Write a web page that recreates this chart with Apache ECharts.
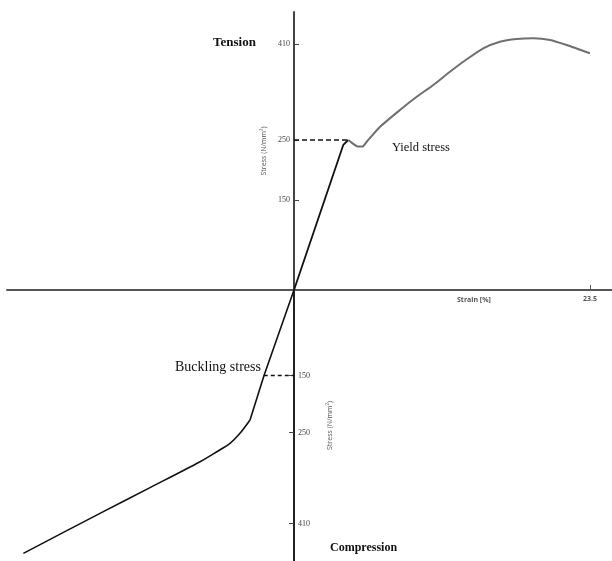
<!DOCTYPE html>
<html>
<head>
<meta charset="utf-8">
<script src="https://cdn.jsdelivr.net/npm/echarts@6/dist/echarts.min.js"></script>
<style>
  html, body { margin: 0; padding: 0; background: #fff; }
  #main { width: 612px; height: 561px; }
</style>
</head>
<body>
<div id="main"></div>
<script>
// strain [%] , stress [N/mm²] (compression negative)
var tensionElastic = [[0, 0], [3.91, 241.7], [4.31, 250]];
var tensionPlastic = [[4.31, 250], [4.68, 244], [5.08, 239], [5.42, 239], [5.77, 247], [6.83, 272],
  [8.41, 300], [9.74, 322], [11.06, 341.7], [12.38, 363.8], [13.71, 384.5], [15.02, 402.8],
  [16.35, 413.8], [17.67, 418.3], [19.0, 419.5], [20.32, 416.7], [21.64, 408.3], [23.49, 394.5]];
var compressionElastic = [[0, 0], [-2.38, -150], [-3.49, -228]];
var compressionPlastic = [[-3.49, -228], [-4.29, -251.4], [-5.08, -269], [-6.13, -283.7],
  [-7.46, -301.2], [-11.43, -346.7], [-15.4, -391.8], [-21.48, -462]];
var yieldLine = [[0, 250], [4.2, 250]];
var bucklingLine = [[-2.4, -150], [0, -150]];

var strainTicks = [23.5];
var tensionTicks = [150, 250, 410];
var compressionTicks = [-150, -250, -410];

var serif = "'Liberation Serif', 'DejaVu Serif', serif";
var tickFont = { fontFamily: serif, fontSize: 8, color: '#444' };

// tension quadrant sits right/above the origin, compression quadrant left/below
var myChart = echarts.init(document.getElementById('main'));
myChart.setOption({
  animation: false,
  grid: [
    { left: 294, right: 0, top: 12, height: 278, containLabel: false, outerBoundsMode: 'none' },
    { left: 7, width: 287, top: 290, height: 271, containLabel: false, outerBoundsMode: 'none' }
  ],
  xAxis: [
    {
      type: 'value', gridIndex: 0, min: 0, max: 25.24, position: 'bottom',
      axisLine: { show: true, onZero: false, lineStyle: { color: '#555', width: 2 } },
      axisTick: { show: true, inside: true, length: 5, customValues: strainTicks, lineStyle: { color: '#555' } },
      axisLabel: { show: true, margin: 5, customValues: strainTicks, fontFamily: 'Open Sans', fontSize: 7, fontWeight: 'bold', color: '#555' },
      splitLine: { show: false }
    },
    {
      type: 'value', gridIndex: 1, min: -22.78, max: 0, position: 'top',
      axisLine: { show: true, onZero: false, lineStyle: { color: '#555', width: 2 } },
      axisTick: { show: false }, axisLabel: { show: false },
      splitLine: { show: false }
    }
  ],
  yAxis: [
    {
      type: 'value', gridIndex: 0, min: 0, max: 463.3, position: 'left',
      axisLine: { show: true, onZero: false, lineStyle: { color: '#444', width: 2 } },
      axisTick: { show: true, inside: true, length: 5, customValues: tensionTicks, lineStyle: { color: '#444' } },
      axisLabel: Object.assign({ margin: 4, customValues: tensionTicks }, tickFont),
      splitLine: { show: false },
      name: 'Stress (N/mm²)', nameLocation: 'middle', nameRotate: 90, nameGap: 18,
      nameTextStyle: { fontFamily: 'Open Sans', fontSize: 7, color: '#555' }
    },
    {
      type: 'value', gridIndex: 1, min: -475.4, max: 0, position: 'right',
      axisLine: { show: true, onZero: false, lineStyle: { color: '#222', width: 2 } },
      axisTick: { show: true, inside: true, length: 5, customValues: compressionTicks, lineStyle: { color: '#444' } },
      axisLabel: Object.assign({
        margin: 4, customValues: compressionTicks,
        formatter: function (v) { return String(Math.abs(v)); }
      }, tickFont),
      splitLine: { show: false },
      name: 'Stress (N/mm²)', nameLocation: 'middle', nameRotate: 90, nameGap: 32,
      nameTextStyle: { fontFamily: 'Open Sans', fontSize: 7, color: '#555' }
    }
  ],
  graphic: [
    { type: 'text', x: 213, y: 43, style: { text: 'Tension', font: 'bold 13px ' + serif, fill: '#111', textVerticalAlign: 'middle' } },
    { type: 'text', x: 392, y: 148, style: { text: 'Yield stress', font: '12.5px ' + serif, fill: '#111', textVerticalAlign: 'middle' } },
    { type: 'text', x: 175, y: 367, style: { text: 'Buckling stress', font: '14px ' + serif, fill: '#111', textVerticalAlign: 'middle' } },
    { type: 'text', x: 330, y: 548, style: { text: 'Compression', font: 'bold 12px ' + serif, fill: '#111', textVerticalAlign: 'middle' } },
    { type: 'text', x: 457, y: 300, style: { text: 'Strain [%]', font: 'bold 7px Open Sans', fill: '#555', textVerticalAlign: 'middle' } }
  ],
  series: [
    {
      name: 'tension elastic', type: 'line', xAxisIndex: 0, yAxisIndex: 0, data: tensionElastic,
      symbol: 'none', lineStyle: { color: '#111', width: 1.8 }
    },
    {
      name: 'tension plastic', type: 'line', xAxisIndex: 0, yAxisIndex: 0, data: tensionPlastic,
      symbol: 'none', smooth: 0.2, lineStyle: { color: '#6f6f6f', width: 2 }
    },
    {
      name: 'compression elastic', type: 'line', xAxisIndex: 1, yAxisIndex: 1, data: compressionElastic,
      symbol: 'none', lineStyle: { color: '#111', width: 1.6 }
    },
    {
      name: 'compression plastic', type: 'line', xAxisIndex: 1, yAxisIndex: 1, data: compressionPlastic,
      symbol: 'none', smooth: 0.3, lineStyle: { color: '#111', width: 1.6 }
    },
    {
      name: 'yield', type: 'line', xAxisIndex: 0, yAxisIndex: 0, data: yieldLine,
      symbol: 'none', lineStyle: { color: '#111', width: 1.3, type: [5, 3] }
    },
    {
      name: 'buckling', type: 'line', xAxisIndex: 1, yAxisIndex: 1, data: bucklingLine,
      symbol: 'none', lineStyle: { color: '#111', width: 1.3, type: [4, 3] }
    }
  ]
});
</script>
</body>
</html>
